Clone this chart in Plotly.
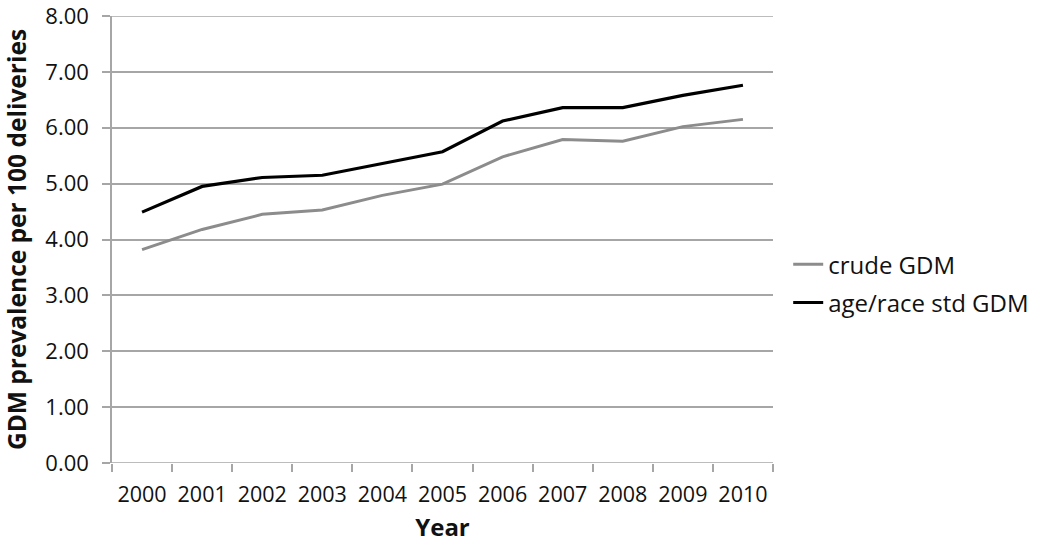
import plotly.graph_objects as go

years = [2000, 2001, 2002, 2003, 2004, 2005, 2006, 2007, 2008, 2009, 2010]
crude_gdm = [3.82, 4.18, 4.45, 4.53, 4.79, 4.99, 5.48, 5.79, 5.76, 6.02, 6.15]
std_gdm = [4.49, 4.95, 5.11, 5.15, 5.36, 5.57, 6.12, 6.36, 6.36, 6.58, 6.76]
y_ticks = [0, 1, 2, 3, 4, 5, 6, 7, 8]

fig = go.Figure()
fig.add_trace(go.Scatter(x=years, y=crude_gdm, mode='lines', name='crude GDM',
                         legendgroup='a', line=dict(color='#8c8c8c', width=3)))
fig.add_trace(go.Scatter(x=years, y=std_gdm, mode='lines', name='age/race std GDM',
                         legendgroup='b', line=dict(color='#000000', width=3.2)))

grid_col = '#a6a6a6'
fig.update_layout(
    width=1050, height=543,
    margin=dict(l=112, r=277, t=16, b=80),
    plot_bgcolor='white', paper_bgcolor='white',
    font=dict(family='Open Sans, Liberation Sans, sans-serif', size=22, color='#111111'),
    legend=dict(x=1.023, y=0.494, xanchor='left', yanchor='top',
                font=dict(size=24), itemwidth=30, tracegroupgap=4),
    xaxis=dict(
        range=[years[0] - 0.5, years[-1] + 0.5], automargin=False,
        tickvals=years, ticktext=[str(y) for y in years], ticks='',
        tickfont=dict(size=21.5), ticklabelstandoff=16,
        showgrid=False, zeroline=False, showline=False,
        minor=dict(tickvals=[y - 0.5 for y in years] + [years[-1] + 0.5],
                   ticks='outside', ticklen=8, tickcolor=grid_col, tickwidth=1.5),
        title=dict(text='<b>Year</b>', standoff=16, font=dict(size=24)),
    ),
    yaxis=dict(
        range=[0, 8], tickvals=y_ticks, ticktext=['%.2f' % v for v in y_ticks],
        automargin=False, tickfont=dict(size=22), ticklabeloverflow='allow',
        ticklabelstandoff=9,
        showgrid=True, gridcolor=grid_col, gridwidth=1.5,
        zeroline=False, showline=True, linecolor=grid_col, linewidth=1.5,
        ticks='outside', ticklen=8, tickcolor=grid_col, tickwidth=1.5,
        title=dict(text='<b>GDM prevalence per 100 deliveries</b>', standoff=16,
                   font=dict(size=24.5)),
    ),
)
fig.add_shape(type='line', xref='x', yref='y', x0=years[0] - 0.5, x1=years[-1] + 0.5,
              y0=0, y1=0, line=dict(color=grid_col, width=1.5))
fig.add_shape(type='line', xref='x', yref='y', x0=years[0] - 0.5, x1=years[-1] + 0.5,
              y0=8, y1=8, line=dict(color=grid_col, width=1.5))
# drop the default 8px body margin so the figure sits at the page corner
fig.write_html("out.html", config={'displayModeBar': False},
               post_script="document.body.style.margin='0';")
